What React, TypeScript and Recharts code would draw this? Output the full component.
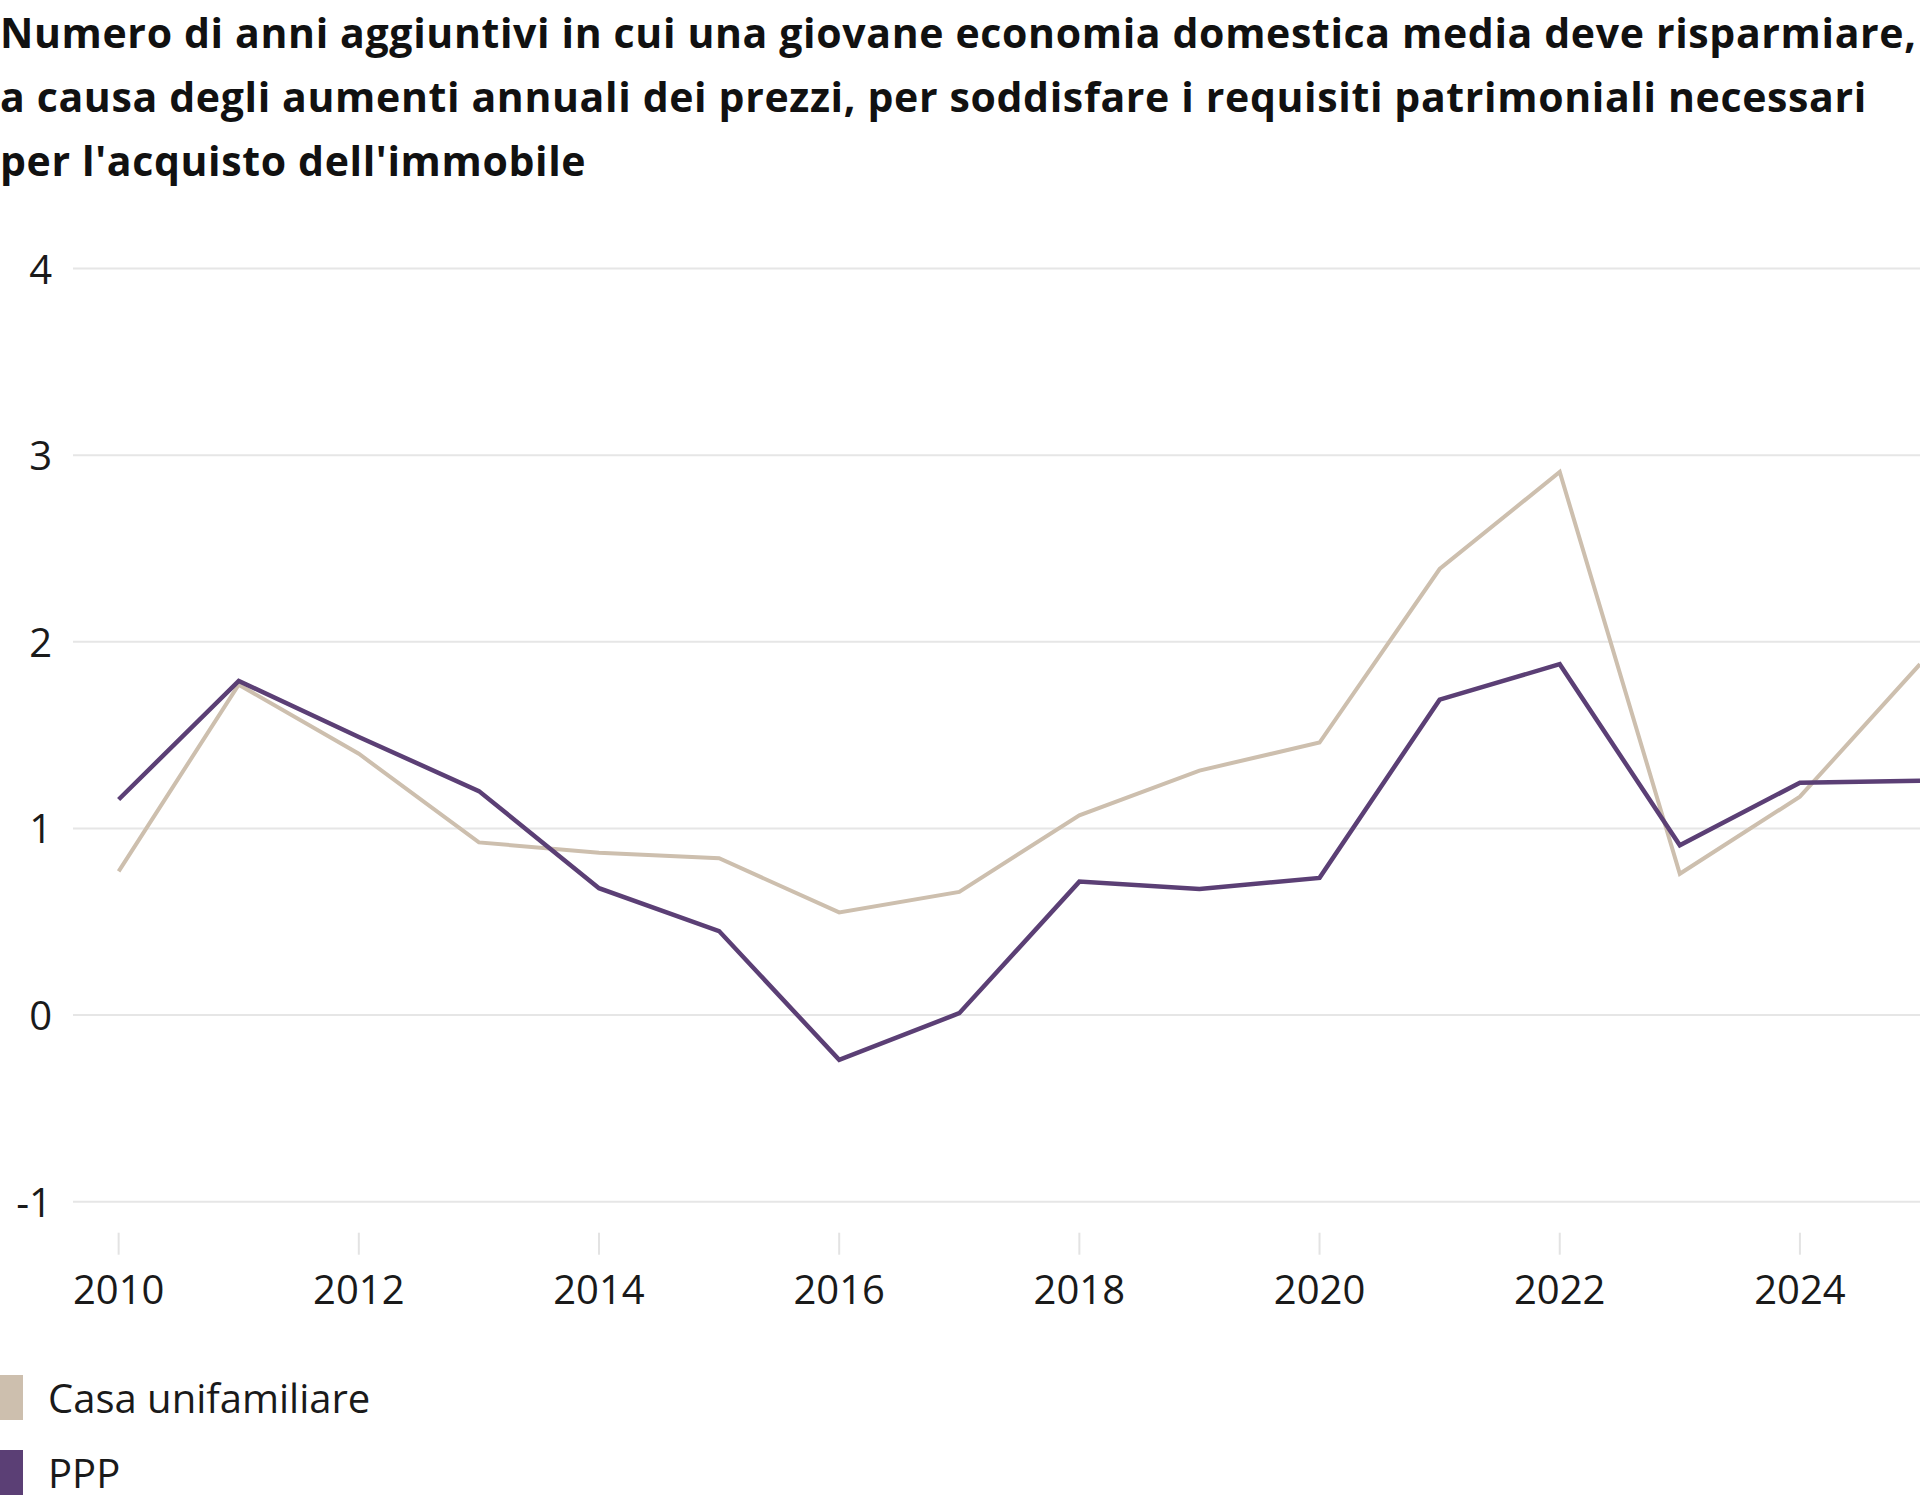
import React from "react";
import { LineChart, Line, XAxis, YAxis, CartesianGrid } from "recharts";

const titleLines = [
  "Numero di anni aggiuntivi in cui una giovane economia domestica media deve risparmiare,",
  "a causa degli aumenti annuali dei prezzi, per soddisfare i requisiti patrimoniali necessari",
  "per l'acquisto dell'immobile",
];

const years = [2010, 2011, 2012, 2013, 2014, 2015, 2016, 2017, 2018, 2019, 2020, 2021, 2022, 2023, 2024, 2025];
const casaUnifamiliare = [0.77, 1.77, 1.4, 0.925, 0.87, 0.84, 0.55, 0.66, 1.07, 1.31, 1.46, 2.39, 2.91, 0.757, 1.17, 1.88];
const ppp = [1.155, 1.79, 1.49, 1.2, 0.68, 0.45, -0.24, 0.01, 0.715, 0.675, 0.735, 1.69, 1.88, 0.91, 1.245, 1.255];

const xTicks = [2010, 2012, 2014, 2016, 2018, 2020, 2022, 2024];
const yTicks = [-1, 0, 1, 2, 3, 4];

const seriesNames = ["Casa unifamiliare", "PPP"];
const seriesColors = ["#cdbfae", "#5b3f75"];

const data = years.map((y, i) => ({ year: y, casa: casaUnifamiliare[i], ppp: ppp[i] }));

const FONT = "'Open Sans', 'Noto Sans', sans-serif";

const XTick = (props: any) => {
  const { x, y, payload } = props;
  return (
    <g>
      <line x1={x} x2={x} y1={y + 31} y2={y + 53} stroke="#e3e3e3" strokeWidth={2} />
      <text x={x} y={y + 102} textAnchor="middle" fontFamily={FONT} fontSize={40} fill="#1a1a1a">
        {payload.value}
      </text>
    </g>
  );
};

const YTick = (props: any) => {
  const { x, y, payload } = props;
  return (
    <text x={x} y={y + 15} textAnchor="end" fontFamily={FONT} fontSize={40} fill="#1a1a1a">
      {payload.value}
    </text>
  );
};

export default function App() {
  return (
    <div style={{ position: "absolute", left: 0, top: 0, width: 1920, height: 1506, background: "#fff", overflow: "hidden" }}>
      <div style={{ position: "absolute", left: 0, top: 0, fontFamily: FONT, fontWeight: 700, fontSize: 41, letterSpacing: 0.65, lineHeight: "64px", color: "#111", whiteSpace: "nowrap" }}>
        {titleLines.map((t, i) => (
          <div key={i}>{t}</div>
        ))}
      </div>
      <div style={{ position: "absolute", left: 0, top: 0 }}>
        <LineChart width={1920} height={1506} data={data} margin={{ top: 268.5, right: 0, bottom: 204.3, left: 0 }}>
          <CartesianGrid vertical={false} stroke="#e6e6e6" strokeWidth={2} />
          <XAxis
            dataKey="year"
            type="number"
            domain={[2009.62, 2025]}
            ticks={xTicks}
            allowDataOverflow
            axisLine={false}
            tickLine={false}
            tickSize={0}
            tickMargin={0}
            height={100}
            interval={0}
            tick={<XTick />}
          />
          <YAxis
            type="number"
            domain={[-1, 4]}
            ticks={yTicks}
            axisLine={false}
            tickLine={false}
            tickSize={0}
            tickMargin={21}
            width={73}
            interval={0}
            tick={<YTick />}
          />
          <Line type="linear" dataKey="casa" stroke={seriesColors[0]} strokeWidth={4} dot={false} isAnimationActive={false} />
          <Line type="linear" dataKey="ppp" stroke={seriesColors[1]} strokeWidth={4.5} dot={false} isAnimationActive={false} />
        </LineChart>
      </div>
      {seriesNames.map((name, i) => (
        <div key={name} style={{ position: "absolute", left: 0, top: 1375 + i * 75, height: 45, display: "flex", alignItems: "center" }}>
          <div style={{ width: 23, height: 45, background: seriesColors[i] }} />
          <span style={{ marginLeft: 25, fontFamily: FONT, fontSize: 40, color: "#1a1a1a", lineHeight: "45px" }}>{name}</span>
        </div>
      ))}
    </div>
  );
}
